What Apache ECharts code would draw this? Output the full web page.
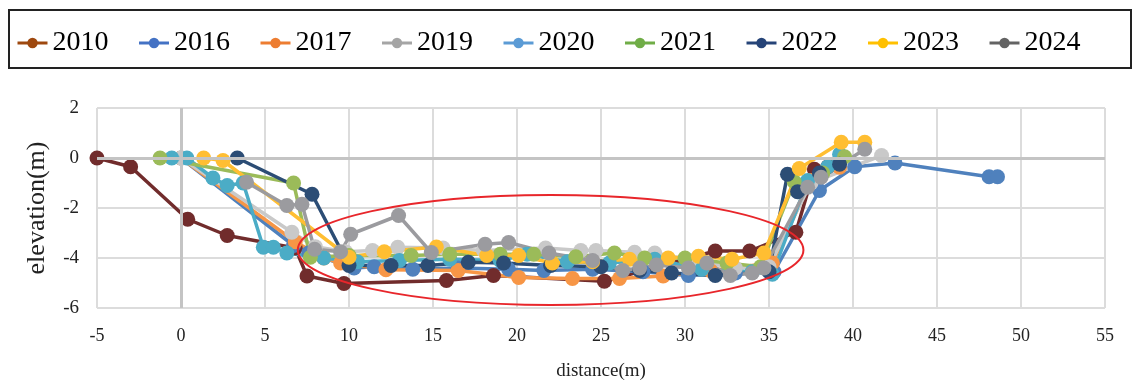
<!DOCTYPE html>
<html>
<head>
<meta charset="utf-8">
<script src="https://cdn.jsdelivr.net/npm/echarts@6/dist/echarts.min.js"></script>
<style>
  html, body { margin: 0; padding: 0; background: #ffffff; }
  #chart { width: 1138px; height: 380px; }
</style>
</head>
<body>
<div id="chart"></div>
<script>
// Cross-section surveys: [distance (m), elevation (m)]
const years = ['2010', '2016', '2017', '2019', '2020', '2021', '2022', '2023', '2024'];

const s2010 = [[-5, 0], [-3, -0.35], [0.4, -2.45], [2.75, -3.1], [6.8, -3.6], [7.5, -4.72], [9.7, -5.02],
  [15.8, -4.9], [18.6, -4.7], [25.2, -4.93], [31.8, -3.72], [33.85, -3.72], [36.6, -2.97], [37.7, -0.45], [38.5, -0.35]];
const s2016 = [[0, 0], [6.7, -3.5], [7.6, -3.8], [10.3, -4.4], [11.5, -4.35], [13.8, -4.45], [16.5, -4.4],
  [19.5, -4.45], [21.6, -4.5], [24.5, -4.45], [27.5, -4.55], [30.2, -4.7], [33, -4.6], [35.3, -4.55],
  [38.0, -1.3], [40.1, -0.35], [42.5, -0.2], [48.1, -0.75], [48.6, -0.75]];
const s2017 = [[0, 0], [6.8, -3.35], [8.5, -4.0], [9.5, -4.2], [12.2, -4.47], [16.5, -4.5], [20.1, -4.78],
  [23.3, -4.82], [26.1, -4.82], [28.7, -4.72], [31.5, -4.5], [35.2, -4.2], [37.5, -0.9], [39.2, -0.37]];
const s2019 = [[0, 0], [6.6, -2.97], [8.0, -3.55], [9.8, -3.75], [11.4, -3.7], [12.9, -3.57], [15.6, -3.6],
  [18, -3.7], [21.7, -3.6], [23.8, -3.7], [24.7, -3.7], [27, -3.77], [28.2, -3.8], [30.5, -4.1], [33, -4.4],
  [35, -4.35], [37.5, -1.0], [41.7, 0.1]];
const s2020 = [[-0.55, 0], [0.35, 0], [1.9, -0.8], [2.75, -1.1], [3.7, -1.0], [4.9, -3.57], [5.5, -3.57],
  [6.3, -3.8], [8.5, -4.0], [10.5, -4.15], [13, -4.1], [16, -4.05], [19, -4.1], [20.6, -3.85], [23, -4.15],
  [25.5, -4.2], [28.2, -4.05], [31, -4.45], [34, -4.55], [35.2, -4.65], [37.3, -0.9], [38.5, -0.35], [39.2, 0.15]];
const s2021 = [[-1.25, 0], [6.7, -1.0], [7.7, -3.97], [10, -3.9], [13.7, -3.9], [16, -3.85], [19, -3.85],
  [21, -3.85], [23.5, -3.95], [25.8, -3.8], [27.6, -4.0], [30, -4.0], [32.5, -4.2], [34.5, -4.35],
  [36.5, -0.95], [38.2, -0.6], [39.5, 0.05]];
const s2022 = [[3.35, 0], [7.8, -1.45], [10.0, -4.3], [12.5, -4.3], [14.7, -4.3], [17.1, -4.17], [19.2, -4.2],
  [22, -4.3], [25, -4.35], [27.3, -4.5], [29.2, -4.6], [31.8, -4.7], [35.0, -4.55], [36.1, -0.65],
  [36.7, -1.35], [38, -0.6], [39.2, -0.25]];
const s2023 = [[1.35, 0], [2.5, -0.1], [10.0, -3.97], [12.1, -3.75], [15.2, -3.56], [18.2, -3.9], [20.1, -3.9],
  [22.1, -4.2], [24.5, -4.15], [26.7, -4.05], [29.0, -4.0], [30.8, -3.93], [32.8, -4.05], [34.7, -3.8],
  [36.8, -0.42], [39.3, 0.63], [40.7, 0.63]];
const s2024 = [[3.9, -0.97], [6.3, -1.9], [7.2, -1.85], [7.95, -3.65], [9.5, -3.75], [10.1, -3.05], [12.95, -2.3],
  [14.9, -3.78], [18.1, -3.45], [19.5, -3.38], [21.9, -3.8], [24.5, -4.1], [26.3, -4.5], [27.3, -4.4],
  [28.3, -4.28], [30.2, -4.4], [31.3, -4.2], [32.7, -4.7], [34.0, -4.6], [34.7, -4.4], [37.3, -1.17],
  [38.1, -0.77], [40.7, 0.35]];

const seriesData = [s2010, s2016, s2017, s2019, s2020, s2021, s2022, s2023, s2024];

// Highlighted channel bed region (centre and half-widths in data units)
const zoneCenter = [22.0, -3.68];
const zoneRadius = [15.05, 2.2];

const lineColors = ['#712C2C', '#4F81BD', '#F79646', '#C9C9C9', '#4BACC6', '#9BBB59', '#2C4D75', '#FFBE32', '#9B9B9F'];
const legendColors = ['#9E480E', '#4472C4', '#ED7D31', '#A5A5A5', '#5B9BD5', '#70AD47', '#264478', '#FFC000', '#636363'];

const serif = '"Liberation Serif", "Times New Roman", serif';

const chart = echarts.init(document.getElementById('chart'), null, { renderer: 'canvas' });

const series = years.map((y, i) => ({
  name: y,
  type: 'line',
  data: seriesData[i],
  symbol: 'circle',
  symbolSize: 15,
  color: lineColors[i],
  lineStyle: { width: 3.5, color: lineColors[i] },
  itemStyle: { color: lineColors[i] },
  emphasis: { disabled: true },
  z: 3
}));

// Zero lines of both axes, drawn heavier than the grid
series.unshift({
  type: 'line',
  data: [],
  silent: true,
  z: 1,
  markLine: {
    silent: true,
    symbol: 'none',
    label: { show: false },
    animation: false,
    lineStyle: { color: '#C4C4C4', width: 3, type: 'solid' },
    data: [{ xAxis: 0 }, { yAxis: 0 }]
  }
});

chart.setOption({
  animation: false,
  backgroundColor: '#ffffff',
  legend: {
    data: years.map((y, i) => ({
      name: y,
      itemStyle: { color: legendColors[i] },
      lineStyle: { color: legendColors[i], width: 3 }
    })),
    left: 11,
    top: 24,
    itemWidth: 30,
    itemHeight: 13,
    itemGap: 29,
    textStyle: { fontFamily: serif, fontSize: 28, color: '#000' }
  },
  grid: { left: 97, right: 33, top: 108, bottom: 72, outerBoundsMode: 'none', containLabel: false },
  xAxis: {
    type: 'value',
    min: -5,
    max: 55,
    interval: 5,
    name: 'distance(m)',
    nameLocation: 'middle',
    nameGap: 54,
    nameTextStyle: { fontFamily: serif, fontSize: 19, color: '#222' },
    axisLine: { show: false },
    axisTick: { show: false },
    axisLabel: { fontFamily: serif, fontSize: 18, color: '#222', margin: 19 },
    splitLine: { show: true, lineStyle: { color: '#DCDCDC', width: 2 } }
  },
  yAxis: {
    type: 'value',
    min: -6,
    max: 2,
    interval: 2,
    name: 'elevation(m)',
    nameLocation: 'middle',
    nameGap: 47,
    nameTextStyle: { fontFamily: serif, fontSize: 26, color: '#222' },
    axisLine: { show: false },
    axisTick: { show: false },
    axisLabel: { fontFamily: serif, fontSize: 19, color: '#222', margin: 18 },
    splitLine: { show: true, lineStyle: { color: '#DCDCDC', width: 2 } }
  },
  series: series
});

// Legend frame and highlighted zone ellipse
const c = chart.convertToPixel({ gridIndex: 0 }, zoneCenter);
const e = chart.convertToPixel({ gridIndex: 0 }, [zoneCenter[0] + zoneRadius[0], zoneCenter[1] + zoneRadius[1]]);
chart.setOption({
  graphic: [
    {
      type: 'rect',
      shape: { x: 9, y: 10, width: 1122, height: 58 },
      style: { fill: 'none', stroke: '#222', lineWidth: 2 },
      silent: true,
      z: 0
    },
    {
      type: 'ellipse',
      shape: { cx: c[0], cy: c[1], rx: Math.abs(e[0] - c[0]), ry: Math.abs(c[1] - e[1]) },
      style: { fill: 'none', stroke: '#E8262B', lineWidth: 2 },
      silent: true,
      z: 100
    }
  ]
});
</script>
</body>
</html>
